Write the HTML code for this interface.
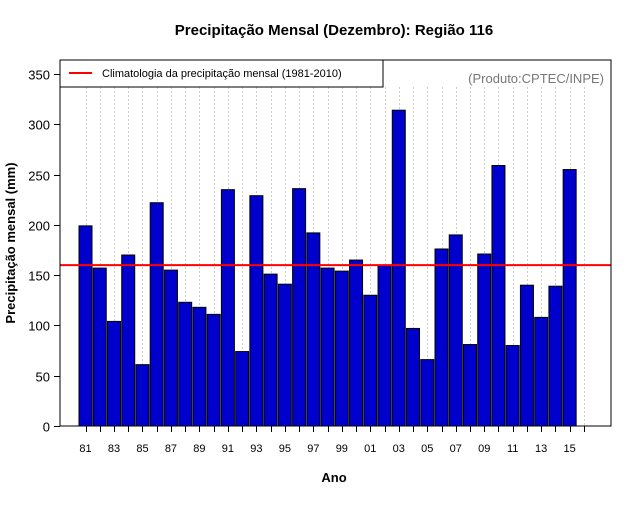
<!DOCTYPE html>
<html><head><meta charset="utf-8"><style>
body{margin:0;background:#fff;font-family:"Liberation Sans",sans-serif}
</style></head><body>
<svg id="chart" width="640" height="500" xmlns="http://www.w3.org/2000/svg" font-family="Liberation Sans, sans-serif">
<rect width="640" height="500" fill="#fff"/>
<text x="334" y="35" text-anchor="middle" font-size="15" font-weight="bold">Precipitação Mensal (Dezembro): Região 116</text>
<g id="grid"></g>
<g id="bars"></g>
<g id="yaxis"></g>
<g id="xaxis"></g>
<line id="clim" stroke="#f00" stroke-width="2"/>
<rect x="60" y="60" width="551" height="366" fill="none" stroke="#000"/>
<g>
<rect x="60" y="60" width="323" height="27" fill="#fff" stroke="#000"/>
<line x1="69" y1="73" x2="92" y2="73" stroke="#f00" stroke-width="2"/>
<text x="102" y="77" font-size="11">Climatologia da precipitação mensal (1981-2010)</text>
</g>
<text x="604" y="83" text-anchor="end" font-size="13" fill="#777">(Produto:CPTEC/INPE)</text>
<text x="334" y="482" text-anchor="middle" font-size="13" font-weight="bold">Ano</text>
<text transform="translate(15,243) rotate(-90)" text-anchor="middle" font-size="13" font-weight="bold">Precipitação mensal (mm)</text>
</svg>
<script>
const years=["81","82","83","84","85","86","87","88","89","90","91","92","93","94","95","96","97","98","99","00","01","02","03","04","05","06","07","08","09","10","11","12","13","14","15"];
const values=[199,157,104,170,61,222,155,123,118,111,235,74,229,151,141,236,192,157,154,165,130,160,314,97,66,176,190,81,171,259,80,140,108,139,255];
const climatology=[160];
const yTicks=[0,50,100,150,200,250,300,350];
const NS="http://www.w3.org/2000/svg";
const y0=426, ppu=352/350;
const ys=v=>y0-v*ppu;
const xs=i=>85.5+i*14.24;
function mk(t,a,p){const e=document.createElementNS(NS,t);for(const k in a)e.setAttribute(k,a[k]);p.appendChild(e);return e;}
const grid=document.getElementById('grid'),bars=document.getElementById('bars'),ya=document.getElementById('yaxis'),xa=document.getElementById('xaxis');
for(let i=0;i<=years.length;i++){
  const x=Math.round(xs(i))+0.5;
  const g=mk('line',{x1:x,x2:x,y1:87,y2:426,stroke:'#ccc','stroke-dasharray':'2,2'},grid);
  
  
  const t=mk('line',{x1:x,x2:x,y1:426,y2:432,stroke:'#000'},xa);
  
  
}
values.forEach((v,i)=>{
  const r=mk('rect',{x:xs(i)-6.5,y:ys(v),width:13,height:y0-ys(v),fill:'#0000cd',stroke:'#000','stroke-width':1},bars);
  
  
  if(i%2===0){
    const l=mk('text',{x:xs(i),y:452,'text-anchor':'middle','font-size':11},xa);
    l.textContent=years[i];
    
    
  }
});
yTicks.forEach(v=>{
  const y=Math.round(ys(v))+0.5;
  const t=mk('line',{x1:54,x2:60,y1:y,y2:y,stroke:'#000'},ya);
  
  
  const l=mk('text',{x:50,y:y+5,'text-anchor':'end','font-size':13},ya);
  l.textContent=v;
  
  
});
const c=document.getElementById('clim');
c.setAttribute('x1',60);c.setAttribute('x2',611);
c.setAttribute('y1',ys(climatology[0]));c.setAttribute('y2',ys(climatology[0]));
</script>
</body></html>
